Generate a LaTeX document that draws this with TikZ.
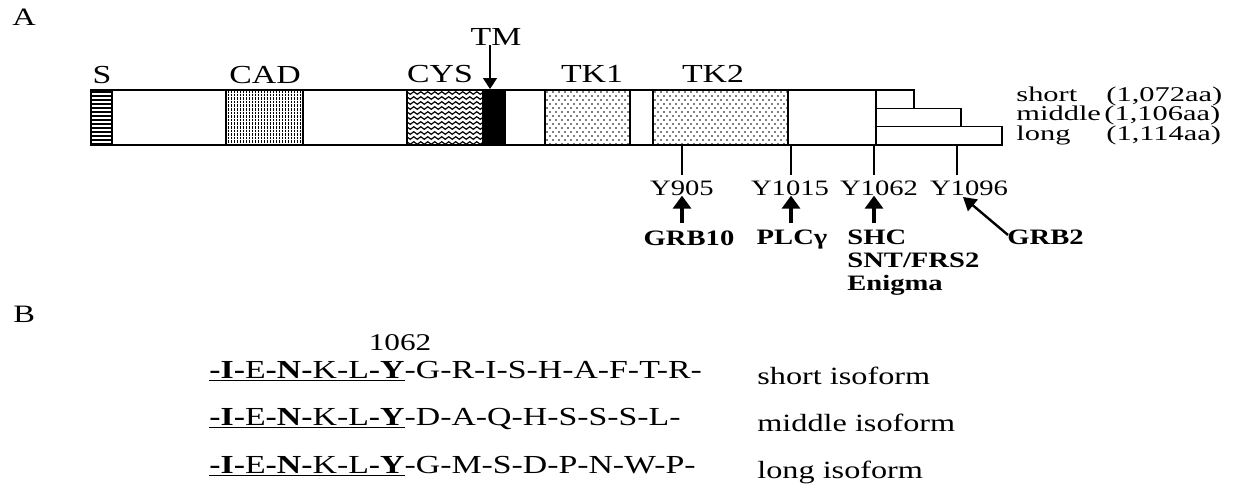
\documentclass[tikz,border=0pt]{standalone}
\usepackage{fontspec}
\setmainfont[FakeStretch=1.3]{Liberation Serif}
\newfontfamily\widefont[FakeStretch=1.45]{Liberation Serif}
\usepackage{tikz}
\usetikzlibrary{arrows.meta, positioning}

\begin{document}
\begin{tikzpicture}[x=0.5pt, y=-0.5pt,
  every node/.style={inner sep=0pt},
  panel/.style={font=\fontsize{12.5}{14}\selectfont, anchor=base west},
  dom/.style={font=\fontsize{13}{15}\selectfont, anchor=base},
  ylab/.style={font=\fontsize{11}{13}\selectfont, anchor=north},
  partner/.style={font=\fontsize{11}{11.3}\selectfont\bfseries, anchor=north},
  iso/.style={font=\fontsize{12.4}{14}\selectfont, anchor=base west},
  len/.style={font=\widefont\fontsize{10.5}{12}\selectfont, anchor=base west},
  seq/.style={font=\fontsize{13}{15}\selectfont, anchor=base west},
  box/.style={line width=0.7pt},
  tick/.style={line width=1.3pt},
  uparrow/.style={line width=1.6pt, -{Triangle[width=9pt,length=6.5pt]}},
  tmarrow/.style={line width=0.7pt, -{Triangle[width=7pt,length=5.5pt]}}]
  \useasboundingbox (0,0) rectangle (1234,493);

  % Panel A
  \node[panel] (lblA) at (12,25) {A};

  % signal peptide
  \begin{scope}
    \clip (91,90) rectangle (112,145);
    \foreach \y in {92,96,...,144} \draw[line width=1.1pt] (91,\y) -- (112,\y);
  \end{scope}
  % CAD
  \begin{scope}
    \clip (226,90) rectangle (303,145);
    \foreach \x in {228,231,...,302}
      \draw[line width=0.5pt, dash pattern=on 1.3pt off 0.5pt] (\x,90) -- (\x,145);
  \end{scope}
  % cysteine-rich
  \begin{scope}
    \clip (407,90) rectangle (482,145);
    \foreach \row in {93,98,...,143}
      \foreach \k in {0,...,11}
        \draw[line width=0.6pt] ({405+7*\k},\row) sin ++(1.75,-1.3) cos ++(1.75,1.3)
          sin ++(1.75,1.3) cos ++(1.75,-1.3);
  \end{scope}
  % TM
  \fill (482,90) rectangle (505,145);
  % kinase halves
  \begin{scope}
    \clip (545,90) rectangle (630,145);
    \foreach \r in {0,...,13} \foreach \c in {0,...,14}
      \fill ({547+6*\c+3*mod(\r,2)}, {92+4*\r}) circle (0.45pt);
  \end{scope}
  \begin{scope}
    \clip (653,90) rectangle (788,145);
    \foreach \r in {0,...,13} \foreach \c in {0,...,22}
      \fill ({655+6*\c+3*mod(\r,2)}, {92+4*\r}) circle (0.45pt);
  \end{scope}

  % outlines
  \draw[box] (91,90) rectangle (876,145);
  \draw[box] (91,90) rectangle (112,145);
  \draw[box] (226,90) rectangle (303,145);
  \draw[box] (407,90) rectangle (505,145);
  \draw[box] (545,90) rectangle (630,145);
  \draw[box] (653,90) rectangle (788,145);

  % C-terminal tails
  \draw[box] (876,90) rectangle (914,108.3);
  \draw[box] (876,108.3) rectangle (961,126.7);
  \draw[box] (876,126.7) rectangle (1002,145);

  \node[len] (short) at (1016,101) {short};
  \node[len] (middle) at (1016,120.5) {middle};
  \node[len] (long) at (1016,140) {long};
  \node[len] (shortaa) at (1106,101) {(1,072aa)};
  \node[len] (middleaa) at (1104,120.5) {(1,106aa)};
  \node[len] (longaa) at (1106,140) {(1,114aa)};

  % domain names
  \node[dom] (lblS) at (102,83) {S};
  \node[dom] (lblCAD) at (265,83) {CAD};
  \node[dom] (lblCYS) at (440,82) {CYS};
  \node[dom] (lblTK1) at (592,82) {TK1};
  \node[dom] (lblTK2) at (713,82) {TK2};
  \node[dom] (lblTM) at (496,45) {TM};
  \coordinate (tmtip) at (490,89);
  \draw[tmarrow] (tmtip |- lblTM.south) -- (tmtip);

  % tyrosines
  \coordinate (t905) at (682,145);
  \coordinate (t1015) at (791,145);
  \coordinate (t1062) at (874,145);
  \coordinate (t1096) at (957,145);
  \node[ylab] (y905) at (682,180) {Y905};
  \node[ylab] (y1015) at (790,180) {Y1015};
  \node[ylab] (y1062) at (879,180) {Y1062};
  \node[ylab] (y1096) at (969,180) {Y1096};
  \draw[tick, shorten >=2.5pt] (t905) -- (t905 |- y905.north);
  \draw[tick, shorten >=2.5pt] (t1015) -- (t1015 |- y1015.north);
  \draw[tick, shorten >=2.5pt] (t1062) -- (t1062 |- y1062.north);
  \draw[tick, shorten >=2.5pt] (t1096) -- (t1096 |- y1096.north);

  % binding partners
  \node[partner] (grb10) at (689,230) {GRB10};
  \node[partner] (plcg) at (792,230) {PLCγ};
  \node[partner, anchor=north west, align=left] (shc) at (847,230) {SHC\\SNT/FRS2\\Enigma};
  \node[partner, anchor=north west] (grb2) at (1007,230) {GRB2};
  \draw[uparrow, shorten <=3.5pt] (t905 |- grb10.north) -- (t905 |- y905.south);
  \draw[uparrow, shorten <=3.5pt] (t1015 |- plcg.north) -- (t1015 |- y1015.south);
  \draw[uparrow, shorten <=3.5pt] (t1062 |- shc.north) -- (t1062 |- y1062.south);
  \coordinate (g2tip) at (963,197);
  \draw[uparrow, line width=1.2pt, -{Triangle[width=7.5pt,length=6.5pt]}]
    ([shift={(0.5pt,-2.5pt)}]grb2.north west) -- (g2tip);

  % Panel B
  \node[panel] (lblB) at (13,322) {B};
  \node[seq, anchor=base, font=\fontsize{12}{14}\selectfont] (pos) at (400,350) {1062};
  \node[seq] (seqS) at (209,378) {\underline{\textbf{-I-}E\textbf{-N-}K-L\textbf{-Y}}-G-R-I-S-H-A-F-T-R-};
  \node[seq] (seqM) at (209,425) {\underline{\textbf{-I-}E\textbf{-N-}K-L\textbf{-Y}}-D-A-Q-H-S-S-S-L-};
  \node[seq] (seqL) at (209,473) {\underline{\textbf{-I-}E\textbf{-N-}K-L\textbf{-Y}}-G-M-S-D-P-N-W-P-};
  \node[iso] (isoS) at (757,384) {short isoform};
  \node[iso] (isoM) at (757,431) {middle isoform};
  \node[iso] (isoL) at (757,478) {long isoform};
\end{tikzpicture}
\end{document}
